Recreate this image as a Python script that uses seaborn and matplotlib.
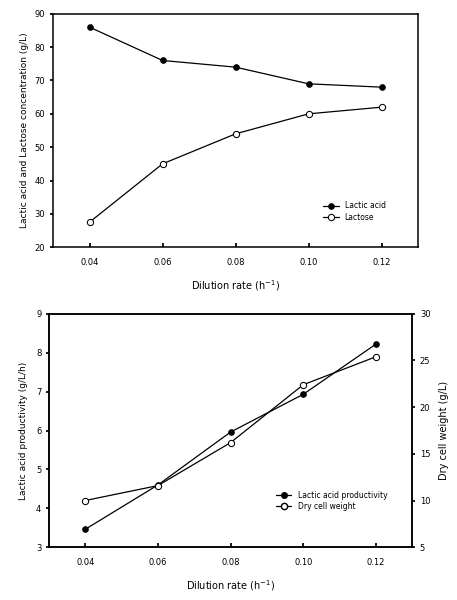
import numpy as np
import pandas as pd
import matplotlib
matplotlib.use('Agg')
import matplotlib.pyplot as plt
import seaborn as sns

# datos
dilution_rate = [0.04, 0.06, 0.08, 0.10, 0.12]
lactic_acid = [86, 76, 74, 69, 68]
lactose = [27.5, 45, 54, 60, 62]
productivity = [3.46, 4.6, 5.96, 6.93, 8.22]
dry_cell_weight = [10.0, 11.6, 16.2, 22.4, 25.4]
x_ticks = [0.04, 0.06, 0.08, 0.10, 0.12]

sns.set_theme(style='ticks')
plt.rcParams['font.family'] = ['DejaVu Sans']
plt.rcParams['axes.linewidth'] = 1.1
plt.rcParams['text.color'] = 'black'
plt.rcParams['axes.labelcolor'] = 'black'
plt.rcParams['xtick.color'] = 'black'
plt.rcParams['ytick.color'] = 'black'
plt.rcParams['axes.edgecolor'] = 'black'

fig = plt.figure(figsize=(4.57, 6.0), dpi=100)
ax1 = fig.add_axes([0.116, 0.588, 0.799, 0.389])
ax2 = fig.add_axes([0.107, 0.088, 0.795, 0.389])

fs = 6

# panel superior
top = pd.DataFrame({'x': dilution_rate, 'Lactic acid': lactic_acid, 'Lactose': lactose})
sns.lineplot(data=top, x='x', y='Lactic acid', ax=ax1, color='black', lw=0.9,
             marker='o', markersize=4, markerfacecolor='black', markeredgecolor='black',
             label='Lactic acid')
sns.lineplot(data=top, x='x', y='Lactose', ax=ax1, color='black', lw=0.9,
             marker='o', markersize=4.5, markerfacecolor='white', markeredgecolor='black',
             label='Lactose')
ax1.set_xlim(0.03, 0.13)
ax1.set_ylim(20, 90)
ax1.set_yticks(range(20, 91, 10))
ax1.set_xticks(x_ticks)
ax1.set_xticklabels([f'{v:.2f}' for v in x_ticks])
ax1.set_xlabel('Dilution rate (h$^{-1}$)', fontsize=fs + 1, labelpad=8)
ax1.set_ylabel('Lactic acid and Lactose concentration (g/L)', fontsize=fs + 0.5, labelpad=4)
ax1.tick_params(axis='x', direction='in', length=3, labelsize=fs, pad=8)
ax1.tick_params(axis='y', direction='out', length=2, labelsize=fs)
ax1.legend(loc='lower right', bbox_to_anchor=(0.93, 0.08), frameon=False,
           fontsize=fs - 0.5, handlelength=2.0, labelspacing=0.3)

# panel inferior
bot = pd.DataFrame({'x': dilution_rate, 'prod': productivity, 'dcw': dry_cell_weight})
sns.lineplot(data=bot, x='x', y='prod', ax=ax2, color='black', lw=0.9,
             marker='o', markersize=4, markerfacecolor='black', markeredgecolor='black',
             legend=False)
ax3 = ax2.twinx()
sns.lineplot(data=bot, x='x', y='dcw', ax=ax3, color='black', lw=0.9,
             marker='o', markersize=4.5, markerfacecolor='white', markeredgecolor='black',
             legend=False)
ax2.set_xlim(0.03, 0.13)
ax2.set_ylim(3, 9)
ax3.set_ylim(5, 30)
ax2.set_yticks(range(3, 10))
ax3.set_yticks(range(5, 31, 5))
ax2.set_xticks(x_ticks)
ax2.set_xticklabels([f'{v:.2f}' for v in x_ticks])
ax2.set_xlabel('Dilution rate (h$^{-1}$)', fontsize=fs + 1, labelpad=8)
ax2.set_ylabel('Lactic acid productivity (g/L/h)', fontsize=fs + 0.5, labelpad=6)
ax3.set_ylabel('Dry cell weight (g/L)', fontsize=fs + 1, labelpad=6)
ax2.tick_params(axis='x', direction='in', length=3, labelsize=fs, pad=8)
ax2.tick_params(axis='y', direction='out', length=2, labelsize=fs)
ax3.tick_params(axis='y', direction='out', length=2, labelsize=fs)

h1 = plt.Line2D([], [], color='black', lw=0.9, marker='o', markersize=4,
                markerfacecolor='black', markeredgecolor='black')
h2 = plt.Line2D([], [], color='black', lw=0.9, marker='o', markersize=4.5,
                markerfacecolor='white', markeredgecolor='black')
ax2.legend([h1, h2], ['Lactic acid productivity', 'Dry cell weight'],
           loc='lower right', bbox_to_anchor=(0.95, 0.125), frameon=False,
           fontsize=fs - 0.5, handlelength=2.0, labelspacing=0.3)

fig.savefig('out.png', dpi=100)
